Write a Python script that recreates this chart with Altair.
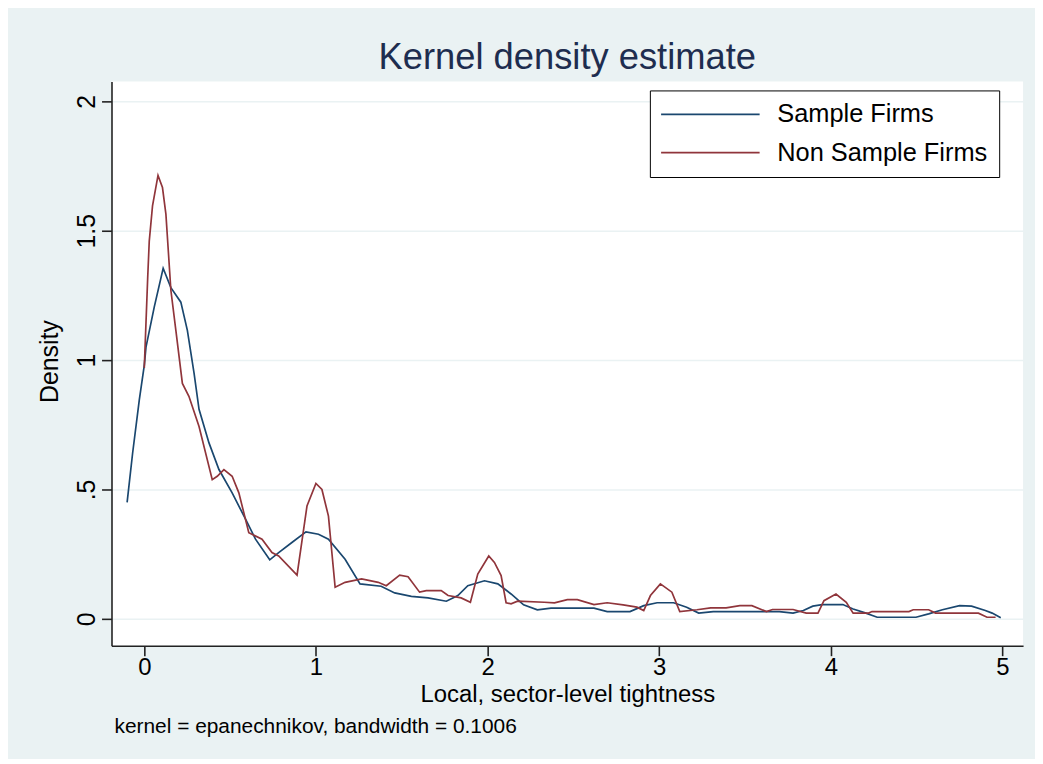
import altair as alt
import pandas as pd

FONT = "Liberation Sans"

TITLE = "Kernel density estimate"
X_TITLE = "Local, sector-level tightness"
Y_TITLE = "Density"
NOTE = "kernel = epanechnikov, bandwidth = 0.1006"

SERIES = ["Sample Firms", "Non Sample Firms"]
COLORS = ["#1a476f", "#90353b"]

X_TICKS = [0, 1, 2, 3, 4, 5]
Y_TICKS = [0, 0.5, 1, 1.5, 2]
Y_TICK_LABELS = ["0", ".5", "1", "1.5", "2"]

sample_x = [-0.10, -0.068, -0.029, 0.0, 0.01, 0.058, 0.11, 0.155, 0.213, 0.251,
            0.29, 0.319, 0.377, 0.435, 0.512, 0.59, 0.648, 0.731, 0.783, 0.86,
            0.942, 1.015, 1.073, 1.17, 1.257, 1.38, 1.459, 1.556, 1.653, 1.76,
            1.827, 1.885, 1.982, 2.06, 2.137, 2.21, 2.29, 2.37, 2.62, 2.697,
            2.83, 2.91, 2.988, 3.084, 3.16, 3.23, 3.315, 3.70, 3.78, 3.84,
            3.895, 3.95, 4.07, 4.13, 4.20, 4.27, 4.496, 4.57, 4.65, 4.75,
            4.82, 4.90, 4.94, 4.99]
sample_y = [0.45, 0.64, 0.846, 0.98, 1.05, 1.205, 1.355, 1.28, 1.224, 1.115,
            0.95, 0.81, 0.68, 0.577, 0.487, 0.385, 0.308, 0.228, 0.256, 0.295,
            0.336, 0.327, 0.308, 0.23, 0.135, 0.126, 0.10, 0.087, 0.081, 0.068,
            0.09, 0.128, 0.147, 0.135, 0.096, 0.054, 0.035, 0.041, 0.041, 0.028,
            0.028, 0.051, 0.062, 0.062, 0.045, 0.022, 0.028, 0.028, 0.022, 0.032,
            0.049, 0.055, 0.055, 0.038, 0.023, 0.006, 0.006, 0.019, 0.035, 0.051,
            0.049, 0.032, 0.022, 0.004]

nonsample_x = [0.0, 0.02, 0.029, 0.048, 0.08, 0.106, 0.126, 0.155, 0.184, 0.222,
               0.26, 0.319, 0.396, 0.425, 0.464, 0.512, 0.551, 0.609, 0.686, 0.744,
               0.783, 0.89, 0.948, 1.0, 1.035, 1.073, 1.112, 1.17, 1.266, 1.363,
               1.41, 1.488, 1.537, 1.604, 1.643, 1.73, 1.77, 1.846, 1.90, 1.943,
               2.007, 2.04, 2.079, 2.108, 2.137, 2.175, 2.33, 2.39, 2.465, 2.523,
               2.62, 2.697, 2.79, 2.87, 2.91, 2.949, 3.007, 3.074, 3.12, 3.22,
               3.30, 3.39, 3.47, 3.54, 3.625, 3.66, 3.78, 3.857, 3.925, 3.96,
               4.03, 4.09, 4.13, 4.22, 4.24, 4.455, 4.48, 4.57, 4.61, 4.86,
               4.91, 4.96]
nonsample_y = [0.97, 1.32, 1.46, 1.596, 1.714, 1.667, 1.564, 1.27, 1.115, 0.91,
               0.86, 0.743, 0.538, 0.551, 0.577, 0.551, 0.487, 0.333, 0.308, 0.256,
               0.243, 0.169, 0.436, 0.523, 0.5, 0.397, 0.122, 0.141, 0.154, 0.141,
               0.128, 0.169, 0.163, 0.103, 0.109, 0.109, 0.09, 0.081, 0.064, 0.173,
               0.243, 0.218, 0.167, 0.062, 0.058, 0.068, 0.064, 0.062, 0.074, 0.074,
               0.055, 0.062, 0.054, 0.045, 0.032, 0.09, 0.135, 0.103, 0.028, 0.035,
               0.042, 0.042, 0.051, 0.051, 0.028, 0.036, 0.036, 0.022, 0.022, 0.07,
               0.096, 0.064, 0.022, 0.022, 0.028, 0.028, 0.035, 0.035, 0.022, 0.022,
               0.006, 0.006]

df = pd.concat([
    pd.DataFrame({"x": sample_x, "density": sample_y, "series": SERIES[0], "k": 0}),
    pd.DataFrame({"x": nonsample_x, "density": nonsample_y, "series": SERIES[1], "k": 1}),
], ignore_index=True)

note_df = pd.DataFrame({"note": [NOTE]})

# y tick label expression built from the tick lists
ylab_expr = "datum.label"
for v, lab in zip(Y_TICKS, Y_TICK_LABELS):
    ylab_expr = f"datum.value == {v} ? '{lab}' : ({ylab_expr})"

lines = alt.Chart(df).mark_line(strokeWidth=1.7, clip=True).encode(
    x=alt.X("x:Q",
            scale=alt.Scale(domain=[-0.191, 5.12], nice=False, zero=False),
            axis=alt.Axis(values=X_TICKS, title=X_TITLE, grid=False,
                          labelFontSize=24, titleFontSize=24,
                          labelBaseline="alphabetic", labelPadding=19,
                          titleBaseline="alphabetic", titleY=56, titleX=458,
                          titleAlign="center")),
    y=alt.Y("density:Q",
            scale=alt.Scale(domain=[-0.104, 2.077], nice=False, zero=False),
            axis=alt.Axis(values=Y_TICKS, title=Y_TITLE, grid=True,
                          labelExpr=ylab_expr, labelAngle=270,
                          labelAlign="center", labelBaseline="alphabetic",
                          labelPadding=7,
                          titleAngle=270, titleBaseline="alphabetic",
                          titleAlign="center", titleX=-54, titleY=281)),
    color=alt.Color("series:N",
                    scale=alt.Scale(domain=SERIES, range=COLORS),
                    legend=alt.Legend(title=None, orient="none",
                                      legendX=541, legendY=9,
                                      symbolType="M-1.06,0H7.19",
                                      symbolSize=576,
                                      symbolStrokeWidth=1.7,
                                      symbolFillColor="transparent",
                                      labelOffset=91,
                                      labelFontSize=25.5,
                                      labelFont=FONT,
                                      labelColor="#000000",
                                      labelLimit=400,
                                      rowPadding=11.5,
                                      padding=11,
                                      strokeColor="#000000",
                                      fillColor="#ffffff")),
    order=alt.Order("k:Q"),
    detail="series:N",
)

note = alt.Chart(note_df).mark_text(
    align="left", baseline="alphabetic", fontSize=21, font=FONT, color="#000000"
).encode(
    x=alt.value(3), y=alt.value(655), text="note:N"
)

chart = alt.layer(lines, note).properties(
    width=916,
    height=567,
    padding={"left": 104, "top": 72, "right": 12, "bottom": 112},
    autosize=alt.AutoSizeParams(type="none"),
    title=alt.Title(TITLE, fontSize=36.5, font=FONT, color="#1E2D4F",
                    fontWeight="normal", anchor="middle", frame="group",
                    baseline="alphabetic", offset=13, dy=37),
    background="#EAF2F3",
).configure_view(
    stroke=None, fill="#ffffff"
).configure_axis(
    domainColor="#222222", domainWidth=1.6,
    tickColor="#222222", tickWidth=1.6, tickSize=10,
    labelFont=FONT, labelFontSize=25, labelColor="#000000",
    titleFont=FONT, titleFontSize=25, titleColor="#000000",
    titleFontWeight="normal",
    gridColor="#EAF2F3", gridWidth=1.5,
)

chart.save("out.html", embed_options={"renderer": "svg", "actions": False})
